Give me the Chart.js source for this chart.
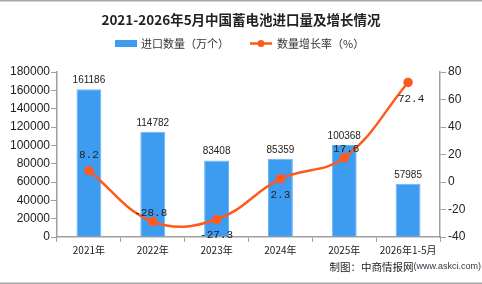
<!DOCTYPE html>
<html>
<head>
<meta charset="utf-8">
<script src="https://cdn.jsdelivr.net/npm/chart.js@4"></script>
<style>
  html, body { margin: 0; padding: 0; background: #fff; }
  #wrap { width: 482px; height: 284px; position: relative; }
</style>
</head>
<body>
<div id="wrap"><canvas id="chart"></canvas></div>
<script>
// data
const years = ["2021年", "2022年", "2023年", "2024年", "2025年", "2026年1-5月"];
const importQty = [161186, 114782, 83408, 85359, 100368, 57985];
const growthRate = [8.2, -28.8, -27.3, 2.3, 17.6, 72.4];
const leftTicks = [0, 20000, 40000, 60000, 80000, 100000, 120000, 140000, 160000, 180000];
const rightTicks = [-40, -20, 0, 20, 40, 60, 80];

const BAR_COLOR = "#3d9cf0";
const LINE_COLOR = "#ff5a1e";
const AXIS_COLOR = "#a0a0a0";
const CJK = "'Noto Sans CJK SC', 'Liberation Sans', sans-serif";

// where the rate labels sit relative to their point (dx, dy)
const rateLabelOffset = [[0, -16], [-2, -9], [0, 16], [0, 16], [2, -9], [3, 17]];

const decorPlugin = {
    id: "decor",
    beforeDraw(chart) {
        const ctx = chart.ctx;
        ctx.save();
        ctx.fillStyle = "#fff";
        ctx.fillRect(0, 0, chart.width, chart.height);
        // frame lines top / bottom
        ctx.fillStyle = "#a8a8a8";
        ctx.fillRect(0, 0, chart.width, 1.5);
        ctx.fillRect(0, chart.height - 1.5, chart.width, 1.5);

        // title
        ctx.fillStyle = "#222";
        ctx.font = "bold 13.5px " + CJK;
        ctx.textAlign = "center";
        ctx.textBaseline = "middle";
        ctx.fillText("2021-2026年5月中国蓄电池进口量及增长情况", 241, 20);

        // legend
        ctx.font = "11px " + CJK;
        ctx.textAlign = "left";
        ctx.fillStyle = BAR_COLOR;
        ctx.fillRect(115, 40, 22, 7);
        ctx.fillStyle = "#333";
        ctx.fillText("进口数量（万个）", 141, 44);
        ctx.strokeStyle = LINE_COLOR;
        ctx.lineWidth = 2.5;
        ctx.beginPath();
        ctx.moveTo(250, 43.5);
        ctx.lineTo(272, 43.5);
        ctx.stroke();
        ctx.fillStyle = LINE_COLOR;
        ctx.beginPath();
        ctx.arc(261, 43.5, 3.5, 0, Math.PI * 2);
        ctx.fill();
        ctx.fillStyle = "#333";
        ctx.fillText("数量增长率（%）", 277, 44);

        // source note
        ctx.textAlign = "right";
        ctx.font = "9px 'Liberation Sans', sans-serif";
        ctx.fillStyle = "#334";
        const src = "(www.askci.com)";
        const w = ctx.measureText(src).width;
        ctx.fillText(src, 481, 267);
        ctx.font = "10.5px " + CJK;
        ctx.fillStyle = "#222";
        ctx.fillText("制图：中商情报网", 481 - w, 267);
        ctx.restore();
    },
    afterDatasetsDraw(chart) {
        const ctx = chart.ctx;
        ctx.save();
        ctx.textAlign = "center";
        ctx.textBaseline = "middle";
        ctx.fillStyle = "#222";
        ctx.font = "10px 'Liberation Sans', sans-serif";
        chart.getDatasetMeta(1).data.forEach((bar, i) => {
            ctx.fillText(String(importQty[i]), bar.x, bar.y - 9);
        });
        ctx.font = "11px 'Liberation Mono', monospace";
        chart.getDatasetMeta(0).data.forEach((pt, i) => {
            const o = rateLabelOffset[i];
            ctx.fillText(String(growthRate[i]), pt.x + o[0], pt.y + o[1]);
        });
        ctx.restore();
    }
};

new Chart(document.getElementById("chart"), {
    data: {
        labels: years,
        datasets: [
            {
                type: "line",
                label: "数量增长率（%）",
                data: growthRate,
                yAxisID: "y1",
                borderColor: LINE_COLOR,
                backgroundColor: LINE_COLOR,
                borderWidth: 2.5,
                pointRadius: 3.5,
                pointHoverRadius: 3.5,
                tension: 0.4,
                order: 0
            },
            {
                type: "bar",
                label: "进口数量（万个）",
                data: importQty,
                yAxisID: "y",
                backgroundColor: BAR_COLOR,
                borderColor: "#6cb4f6",
                borderWidth: 1,
                barPercentage: 0.78,
                categoryPercentage: 0.5,
                order: 1
            }
        ]
    },
    options: {
        responsive: true,
        maintainAspectRatio: false,
        animation: false,
        events: [],
        layout: { padding: { top: 72, left: 0, right: 0, bottom: 0 } },
        plugins: { legend: { display: false }, title: { display: false }, tooltip: { enabled: false } },
        scales: {
            x: {
                grid: { display: true, drawOnChartArea: false, color: AXIS_COLOR, tickLength: 5, offset: true },
                border: { color: AXIS_COLOR, width: 1.5 },
                ticks: { color: "#222", font: { size: 10, family: CJK }, padding: 2, maxRotation: 0, autoSkip: false },
                afterFit(s) { s.height = 47; }
            },
            y: {
                position: "left",
                min: 0, max: 180000,
                afterBuildTicks(s) { s.ticks = leftTicks.map(v => ({ value: v })); },
                grid: { display: true, drawOnChartArea: false, color: AXIS_COLOR, tickLength: 6 },
                border: { color: AXIS_COLOR, width: 1.5 },
                ticks: { color: "#222", font: { size: 12, family: "'Liberation Sans', sans-serif" }, padding: 1, callback: v => String(v) },
                afterFit(s) { s.width = 57; }
            },
            y1: {
                position: "right",
                min: -40, max: 80,
                afterBuildTicks(s) { s.ticks = rightTicks.map(v => ({ value: v })); },
                grid: { display: true, drawOnChartArea: false, color: AXIS_COLOR, tickLength: 6 },
                border: { color: AXIS_COLOR, width: 1.5 },
                ticks: { color: "#222", font: { size: 12, family: "'Liberation Sans', sans-serif" }, padding: 2, callback: v => String(v) },
                afterFit(s) { s.width = 42; }
            }
        }
    },
    plugins: [decorPlugin]
});
</script>
</body>
</html>
